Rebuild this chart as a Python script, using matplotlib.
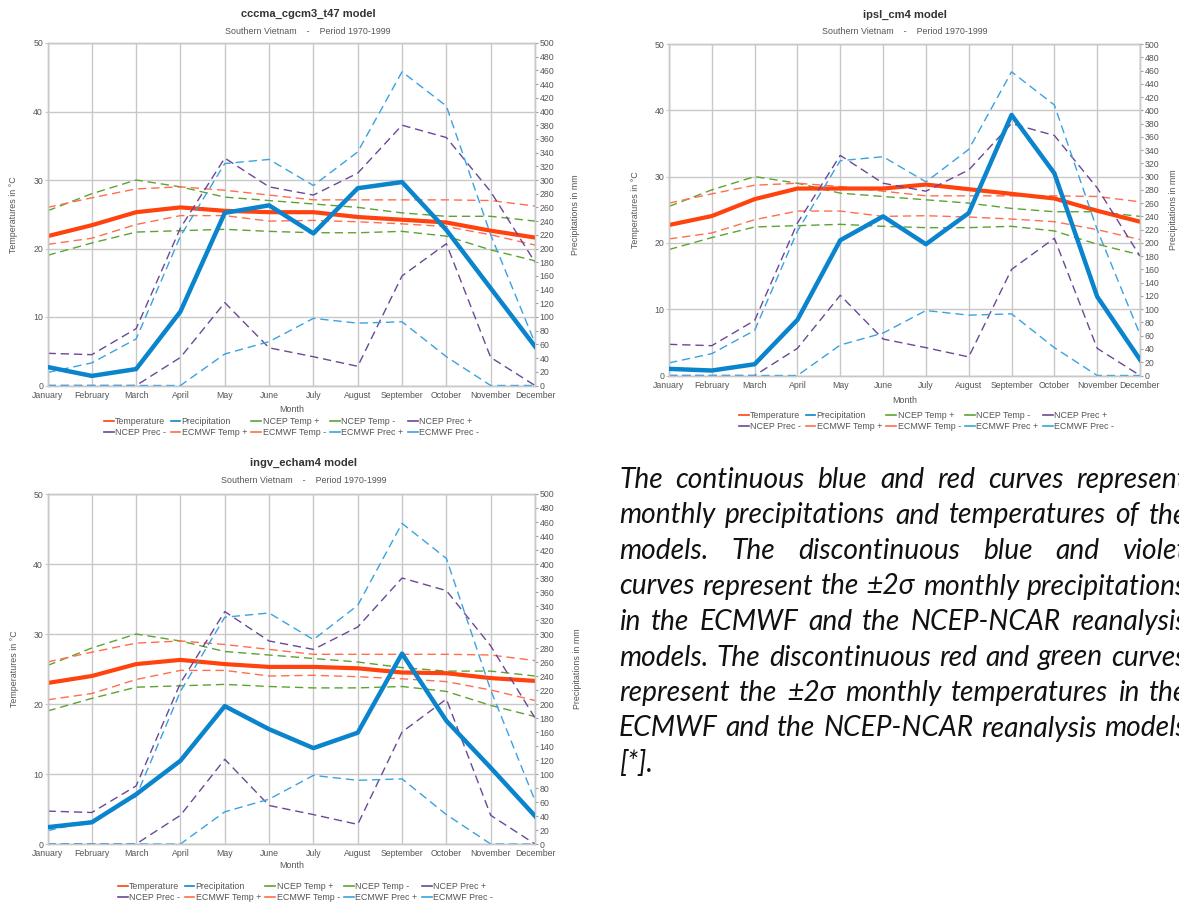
import matplotlib
matplotlib.use("Agg")
import matplotlib.pyplot as plt
from matplotlib.lines import Line2D

W, H = 1179, 906

months = ["January", "February", "March", "April", "May", "June", "July",
          "August", "September", "October", "November", "December"]

# reanalysis +/- 2 sigma envelopes (same in every panel)
ncep_temp_plus = [25.5, 28.0, 30.0, 29.0, 27.5, 27.0, 26.5, 26.0, 25.2, 24.7, 24.7, 24.0]
ncep_temp_minus = [19.0, 20.8, 22.4, 22.6, 22.8, 22.5, 22.3, 22.3, 22.5, 21.8, 19.8, 18.2]
ecmwf_temp_plus = [26.0, 27.4, 28.7, 29.0, 28.5, 27.8, 27.1, 27.1, 27.1, 27.1, 27.0, 26.2]
ecmwf_temp_minus = [20.6, 21.5, 23.5, 24.8, 24.8, 24.0, 24.1, 23.9, 23.6, 23.2, 22.0, 20.5]
ncep_prec_plus = [47, 45, 83, 230, 332, 290, 278, 310, 380, 362, 283, 180]
ncep_prec_minus = [0, 0, 0, 41, 121, 55, 42, 28, 160, 207, 41, 0]
ecmwf_prec_plus = [19, 33, 68, 218, 324, 330, 292, 341, 458, 408, 220, 62]
ecmwf_prec_minus = [0, 0, 0, 0, 46, 64, 98, 91, 93, 42, 0, 0]

# model outputs
cccma_temp = [21.8, 23.4, 25.3, 26.0, 25.5, 25.3, 25.3, 24.6, 24.2, 23.8, 22.6, 21.6]
cccma_prec = [27, 14, 24, 108, 252, 263, 222, 288, 297, 227, 142, 57]
ipsl_temp = [22.7, 24.05, 26.6, 28.2, 28.2, 28.2, 28.8, 28.1, 27.4, 26.7, 24.85, 23.2]
ipsl_prec = [10, 7.5, 17, 84, 204, 240, 198, 245, 393, 305, 119, 24]
ingv_temp = [23.0, 24.0, 25.7, 26.3, 25.7, 25.3, 25.3, 25.1, 24.5, 24.4, 23.7, 23.3]
ingv_prec = [24, 31, 71, 119, 197, 164, 137, 159, 272, 176, 109, 40]

subtitle = "Southern Vietnam    -    Period 1970-1999"

paragraph = [
    "The continuous blue and red curves represent",
    "monthly precipitations and temperatures of the",
    "models. The discontinuous blue and violet",
    "curves represent the \u00b12\u03c3 monthly precipitations",
    "in the ECMWF and the NCEP-NCAR reanalysis",
    "models. The discontinuous red and green curves",
    "represent the \u00b12\u03c3 monthly temperatures in the",
    "ECMWF and the NCEP-NCAR reanalysis models",
    "[*].",
]

c_temp = "#ff420e"
c_prec = "#0a84cc"
c_ncep_t = "#5ca332"
c_ncep_p = "#6b4896"
c_ecmwf_t = "#ff6e4e"
c_ecmwf_p = "#3aa2e2"
grid_c = "#c8c8c8"
txt_c = "#555555"
dash = (6, 3.5)

plt.rcParams["font.family"] = ["Liberation Sans", "DejaVu Sans"]

fig = plt.figure(figsize=(W / 100, H / 100), dpi=100)


def fx(x):
    return x / W


def fy(y):
    return 1 - y / H


def chart(box, title, temp, prec, title_x, title_y, month_y, ylab_x, y2lab_x, leg_x, leg_y):
    left, top, right, bottom = box
    ax = fig.add_axes([fx(left), fy(bottom), (right - left) / W, (bottom - top) / H])
    ax2 = ax.twinx()
    x = list(range(len(months)))

    ax.plot(x, temp, color=c_temp, lw=3.0, solid_joinstyle="round", zorder=3)
    ax.plot(x, ncep_temp_plus, color=c_ncep_t, lw=1.0, dashes=dash)
    ax.plot(x, ncep_temp_minus, color=c_ncep_t, lw=1.0, dashes=dash)
    ax.plot(x, ecmwf_temp_plus, color=c_ecmwf_t, lw=1.0, dashes=dash)
    ax.plot(x, ecmwf_temp_minus, color=c_ecmwf_t, lw=1.0, dashes=dash)

    ax2.plot(x, prec, color=c_prec, lw=3.2, solid_joinstyle="round", zorder=3)
    ax2.plot(x, ncep_prec_plus, color=c_ncep_p, lw=1.0, dashes=dash)
    ax2.plot(x, ncep_prec_minus, color=c_ncep_p, lw=1.0, dashes=dash)
    ax2.plot(x, ecmwf_prec_plus, color=c_ecmwf_p, lw=1.0, dashes=dash)
    ax2.plot(x, ecmwf_prec_minus, color=c_ecmwf_p, lw=1.0, dashes=dash)

    ax.set_xlim(0, 11)
    ax.set_ylim(0, 50)
    ax2.set_ylim(0, 500)
    ax.set_xticks(x)
    ax.set_xticklabels(months)
    ax.set_yticks(range(0, 51, 10))
    ax2.set_yticks(range(0, 501, 20))

    ax.grid(True, color=grid_c, lw=1.0)
    ax.set_axisbelow(True)
    for a in (ax, ax2):
        for s in a.spines.values():
            s.set_color(grid_c)
            s.set_linewidth(1.0)
    ax.tick_params(axis="x", length=0, pad=3.6, labelsize=6.3, labelcolor=txt_c)
    ax.tick_params(axis="y", length=2.2, width=0.8, color=grid_c, pad=1,
                   labelsize=6.3, labelcolor=txt_c)
    ax2.tick_params(axis="y", length=2.2, width=0.8, color="#a0a0a0", pad=1.2,
                    labelsize=6.3, labelcolor=txt_c)

    fig.text(fx(title_x), fy(title_y), title, ha="center", va="center",
             fontsize=8, fontweight="bold", color="#333333")
    fig.text(fx(title_x), fy(title_y + 17), subtitle, ha="center", va="center",
             fontsize=6.4, color=txt_c)
    fig.text(fx((left + right) / 2), fy(month_y), "Month", ha="center", va="center",
             fontsize=6.4, color=txt_c)
    fig.text(fx(ylab_x), fy((top + bottom) / 2), "Temperatures in \u00b0C", rotation=90,
             ha="center", va="center", fontsize=6.4, color=txt_c)
    fig.text(fx(y2lab_x), fy((top + bottom) / 2), "Precipitations in mm", rotation=90,
             ha="center", va="center", fontsize=6.4, color=txt_c)

    entries = [
        ("Temperature", c_temp), ("NCEP Prec -", c_ncep_p),
        ("Precipitation", c_prec), ("ECMWF Temp +", c_ecmwf_t),
        ("NCEP Temp +", c_ncep_t), ("ECMWF Temp -", c_ecmwf_t),
        ("NCEP Temp -", c_ncep_t), ("ECMWF Prec +", c_ecmwf_p),
        ("NCEP Prec +", c_ncep_p), ("ECMWF Prec -", c_ecmwf_p),
    ]
    handles = [Line2D([], [], color=c, lw=1.2) for _, c in entries]
    fig.legend(handles, [n for n, _ in entries], ncol=5, loc="upper left",
               bbox_to_anchor=(fx(leg_x), fy(leg_y)), frameon=False,
               fontsize=6.4, handlelength=1.1, handletextpad=0.15,
               columnspacing=0.5, labelspacing=0.2, borderpad=0, borderaxespad=0,
               labelcolor=txt_c)


chart((47.5, 43, 535, 385.5), "cccma_cgcm3_t47 model", cccma_temp, cccma_prec,
      308, 14, 409, 14, 576, 104, 417)
chart((669, 44, 1140, 375.5), "ipsl_cm4 model", ipsl_temp, ipsl_prec,
      905, 15, 400, 635, 1174, 739, 411)
chart((47.5, 494, 535, 844), "ingv_echam4 model", ingv_temp, ingv_prec,
      304, 463, 865, 15, 578, 118, 882)

# justified italic paragraph on the right
L, R = 619, 1187
base0, step = 488, 35.5
fam = ["Lato", "DejaVu Sans"]
renderer = fig.canvas.get_renderer()


def text_width(s, size):
    t = fig.text(0, 0, s, fontsize=size, family=fam, style="italic")
    w = t.get_window_extent(renderer).width
    t.remove()
    return w


size = 16
natural = max(text_width(line, size) for line in paragraph[:-1])
size = size * (R - L) / natural * 0.99

for i, line in enumerate(paragraph):
    words = line.split()
    widths = [text_width(w, size) for w in words]
    if i < len(paragraph) - 1 and len(words) > 1:
        gap = (R - L - sum(widths)) / (len(words) - 1)
    else:
        gap = text_width("a b", size) - text_width("ab", size)
    xpos = L
    for w, wd in zip(words, widths):
        fig.text(fx(xpos), fy(base0 + i * step), w, fontsize=size, family=fam,
                 style="italic", va="baseline", ha="left", color="#111111")
        xpos += wd + gap

fig.savefig("out.png", dpi=100)
